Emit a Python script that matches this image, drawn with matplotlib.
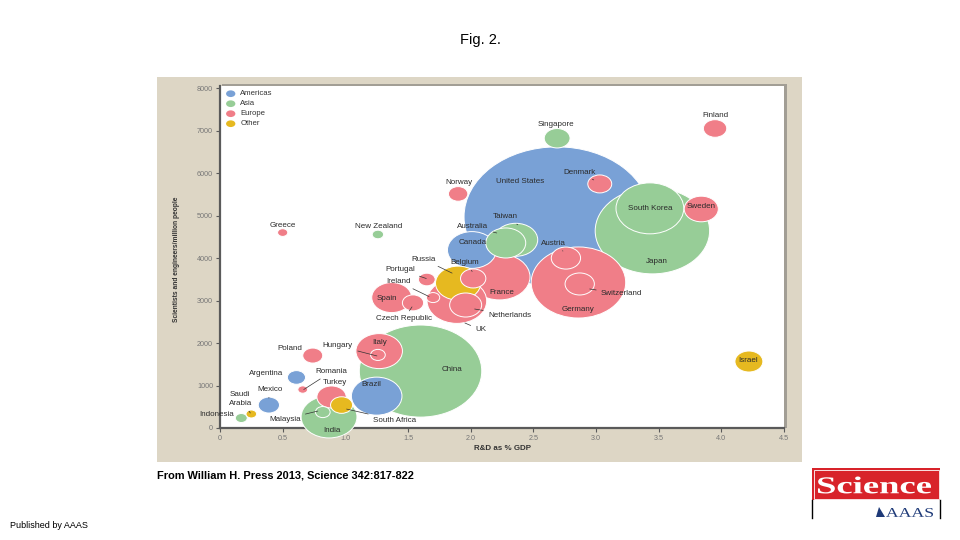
import numpy as np
import matplotlib
matplotlib.use("Agg")
import matplotlib.pyplot as plt
from matplotlib.patches import Ellipse, Rectangle, PathPatch, Polygon
from matplotlib.textpath import TextPath
from matplotlib.font_manager import FontProperties
from matplotlib.transforms import Affine2D, IdentityTransform

plt.rcParams["font.family"] = ["Liberation Sans", "DejaVu Sans"]

# data: R&D as % GDP, scientists+engineers per million, R&D spend (bubble area)
countries = ["United States", "China", "Japan", "Germany", "South Korea", "France", "UK",
             "India", "Brazil", "Canada", "Italy", "Russia", "Taiwan", "Australia", "Spain",
             "Sweden", "Netherlands", "Turkey", "Austria", "Switzerland", "Israel", "Singapore",
             "Belgium", "Denmark", "Finland", "South Africa", "Mexico", "Czech Republic",
             "Poland", "Norway", "Argentina", "Portugal", "Hungary", "Malaysia", "Ireland",
             "Indonesia", "New Zealand", "Saudi\nArabia", "Greece", "Romania"]
regions = ["Americas", "Asia", "Asia", "Europe", "Asia", "Europe", "Europe",
           "Asia", "Americas", "Americas", "Europe", "Other", "Asia", "Asia", "Europe",
           "Europe", "Europe", "Europe", "Europe", "Europe", "Other", "Asia",
           "Europe", "Europe", "Europe", "Other", "Americas", "Europe",
           "Europe", "Europe", "Americas", "Europe", "Europe", "Asia", "Europe",
           "Asia", "Asia", "Other", "Europe", "Europe"]
rd_gdp = [2.69, 1.60, 3.45, 2.86, 3.43, 2.23, 1.89,
          0.87, 1.25, 2.01, 1.27, 1.90, 2.36, 2.28, 1.37,
          3.84, 1.96, 0.89, 2.76, 2.87, 4.22, 2.69,
          2.02, 3.03, 3.95, 0.97, 0.39, 1.54,
          0.74, 1.90, 0.61, 1.65, 1.26, 0.82, 1.70,
          0.17, 1.26, 0.25, 0.50, 0.66]
sci_per_million = [4970, 1340, 4640, 3425, 5170, 3555, 2990,
                   260, 750, 4190, 1810, 3410, 4430, 4355, 3070,
                   5155, 2895, 730, 4000, 3390, 1565, 6820,
                   3520, 5745, 7050, 540, 540, 2945,
                   1705, 5510, 1190, 3495, 1720, 375, 3070,
                   235, 4555, 330, 4600, 905]
rd_spend = [400, 173, 151, 103, 53, 43, 41,
            36, 29.5, 27.6, 25, 23.6, 22.2, 18.4, 18.4,
            13.4, 11.8, 9.9, 9.9, 9.9, 9.0, 7.7,
            7.4, 6.6, 6.3, 5.6, 5.2, 5.2,
            4.6, 4.35, 3.8, 3.25, 2.5, 2.5, 2.05,
            1.65, 1.5, 1.3, 1.2, 1.1]

# label placement (pixel offset from bubble centre)
label_dx = [-37, 31, 4, 0, 0, 2, 24,
            3, -5, 1, 0, -35, -11, -33, -5,
            0, 44, 3, -12, 42, -1, -1,
            -8, -20, 0, 53, 1, -9,
            -23, 1, -30, -27, -40, -38, -35,
            -25, 1, -11, 0, 29]
label_dy = [35, 2, -31, -27, 0, -16, -29,
            -14, 12, 7, 9, 24, 23, 16, -1,
            2, -10, 14, 15, -10, 1, 14,
            16, 11, 13, -15, 16, -16,
            7, 11, 4, 10, 9, -7, 16,
            4, 8, 15, 7, 18]
# leader lines: 1 if drawn, and where they end (pixel offset from bubble centre)
leader = [0, 0, 0, 0, 0, 0, 1,
          0, 0, 0, 0, 1, 1, 1, 0,
          0, 1, 0, 1, 1, 0, 0,
          1, 1, 0, 1, 1, 1,
          0, 0, 0, 1, 1, 1, 1,
          0, 0, 1, 0, 1]
leader_ex = [0, 0, 0, 0, 0, 0, 8,
             0, 0, 0, 0, -6, 2, -9, 0,
             0, 9, 0, -3, 10, 0, 0,
             -1, -6, 0, 5, 0, -1,
             0, 0, 0, -0.5, -1, -5, -4,
             0, 0, -1, 0, 1]
leader_ey = [0, 0, 0, 0, 0, 0, -22,
             0, 0, 0, 0, 10, 15, 10, 0,
             0, -4, 0, 7, -5, 0, 0,
             7, 4, 0, -4, 7, -4,
             0, 0, 0, 1, -1, 1, 1,
             0, 0, 1, 0, 0]

region_names = ["Americas", "Asia", "Europe", "Other"]
region_colors = {"Americas": "#79a1d6", "Asia": "#97cd97", "Europe": "#f07e88", "Other": "#e6b920"}

W, H = 960, 540
fig = plt.figure(figsize=(9.6, 5.4), dpi=100)
fig.patch.set_facecolor("white")


def fig_rect(x0, y0, x1, y1, **kw):
    # rectangle given in pixel coordinates measured from the top left
    r = Rectangle((x0 / W, 1 - y1 / H), (x1 - x0) / W, (y1 - y0) / H,
                  transform=fig.transFigure, **kw)
    fig.patches.append(r)
    return r


# beige panel behind the chart and the shadow of the white plot area
fig_rect(157, 77, 802, 462, facecolor="#ddd6c5", edgecolor="none", zorder=-2)
fig_rect(222, 84, 787, 428, facecolor="#a29e95", edgecolor="none", zorder=-1)

ax = fig.add_axes([220 / W, 1 - 428 / H, 564 / W, 342 / H])
ax.set_facecolor("white")
ax.set_xlim(0, 4.5)
ax.set_ylim(0, 8050)

px_per_x = 564 / 4.5
px_per_y = 342 / 8050

order = np.argsort(rd_spend)[::-1]
for k, i in enumerate(order):
    hh = 3.5 * np.sqrt(rd_spend[i])
    hw = 1.33 * hh
    e = Ellipse((rd_gdp[i], sci_per_million[i]), 2 * hw / px_per_x, 2 * hh / px_per_y,
                facecolor=region_colors[regions[i]], edgecolor="white", lw=0.7,
                zorder=3 + k * 0.01, clip_on=False)
    ax.add_patch(e)

for i in range(len(countries)):
    x, y = rd_gdp[i], sci_per_million[i]
    tx, ty = label_dx[i], label_dy[i]
    if leader[i]:
        # point the label at the leader end, keep the text where it was
        ex, ey = leader_ex[i], leader_ey[i]
        xy = (x + ex / px_per_x, y + ey / px_per_y)
        tx, ty = tx - ex, ty - ey
        arrow = dict(arrowstyle="-", lw=0.5, color="#333333", shrinkA=1.5, shrinkB=0)
    else:
        xy = (x, y)
        arrow = None
    ax.annotate(countries[i], xy=xy, xytext=(tx, ty), textcoords="offset pixels",
                ha="center", va="center", fontsize=5.8, color="#2b2b2b",
                linespacing=1.3, arrowprops=arrow, zorder=10)

# legend in the top left corner
for j, name in enumerate(region_names):
    yy = 1 - (93.7 - 86 + 10 * j) / 342
    ax.add_patch(Ellipse((0.019, yy), 9.3 / 564, 6.7 / 342, transform=ax.transAxes,
                         facecolor=region_colors[name], edgecolor="none", zorder=5))
    ax.text(0.036, yy, name, transform=ax.transAxes, fontsize=5.6, color="#333333",
            va="center", ha="left", zorder=5)

for s in ["top", "right"]:
    ax.spines[s].set_visible(False)
for s in ["left", "bottom"]:
    ax.spines[s].set_color("#5a5a5a")
    ax.spines[s].set_linewidth(1.6)

xt = np.arange(0, 4.51, 0.5)
ax.set_xticks(xt)
ax.set_xticklabels(["0"] + ["%.1f" % v for v in xt[1:]])
ax.set_yticks(np.arange(0, 8001, 1000))
ax.set_yticklabels([str(v) for v in range(0, 8001, 1000)])
ax.tick_params(labelsize=5.2, labelcolor="#777777", color="#5a5a5a", length=3, width=0.8, pad=2)

fig.text(502 / W, 1 - 449 / H, "R&D as % GDP", fontsize=5.7, color="#333333",
         ha="center", va="center", weight="bold")
fig.text(176 / W, 1 - 259 / H, "Scientists and engineers/million people", fontsize=4.8,
         color="#333333", ha="center", va="center", rotation=90, weight="bold")

# slide texts
fig.text(480 / W, 1 - 40 / H, "Fig. 2.", fontsize=10.5, ha="center", va="center", color="black")
fig.text(157 / W, 1 - 476 / H, "From William H. Press 2013, Science 342:817-822", fontsize=7.9,
         weight="bold", ha="left", va="center", color="black")
fig.text(10 / W, 1 - 525 / H, "Published by AAAS", fontsize=6.5, ha="left", va="center", color="black")

# Science / AAAS logo
fig_rect(812, 468, 940, 500, facecolor="#d8232a", edgecolor="none", zorder=1)
fig_rect(813.5, 469.5, 938.5, 498.5, facecolor="none", edgecolor="white", lw=0.6, zorder=1.1)
for xx in [812, 940]:
    fig.lines.append(plt.Line2D([xx / W, xx / W], [1 - 518 / H, 1 - 500 / H],
                                transform=fig.transFigure, color="black", lw=1.0))


def stretched_text(txt, x0, y0, x1, y1, color, family, weight):
    # text path stretched to fill a pixel box (top-left origin)
    tp = TextPath((0, 0), txt, size=1, prop=FontProperties(family=family, weight=weight))
    bb = tp.get_extents()
    tr = (Affine2D().translate(-bb.x0, -bb.y0)
          .scale((x1 - x0) / bb.width, (y1 - y0) / bb.height)
          .translate(x0, H - y1))
    fig.patches.append(PathPatch(tr.transform_path(tp), facecolor=color, edgecolor="none",
                                 transform=IdentityTransform(), zorder=2))


stretched_text("Science", 818, 476.5, 931, 493.5, "white", "Liberation Serif", "bold")
stretched_text("AAAS", 886, 508, 933, 517, "#1e3a78", "Liberation Serif", "normal")
mark = Polygon([[876 / W, 1 - 517 / H], [879 / W, 1 - 507 / H], [885 / W, 1 - 517 / H]],
               closed=True, transform=fig.transFigure, facecolor="#1e3a78", edgecolor="none")
fig.patches.append(mark)

fig.savefig("out.png", dpi=100)
